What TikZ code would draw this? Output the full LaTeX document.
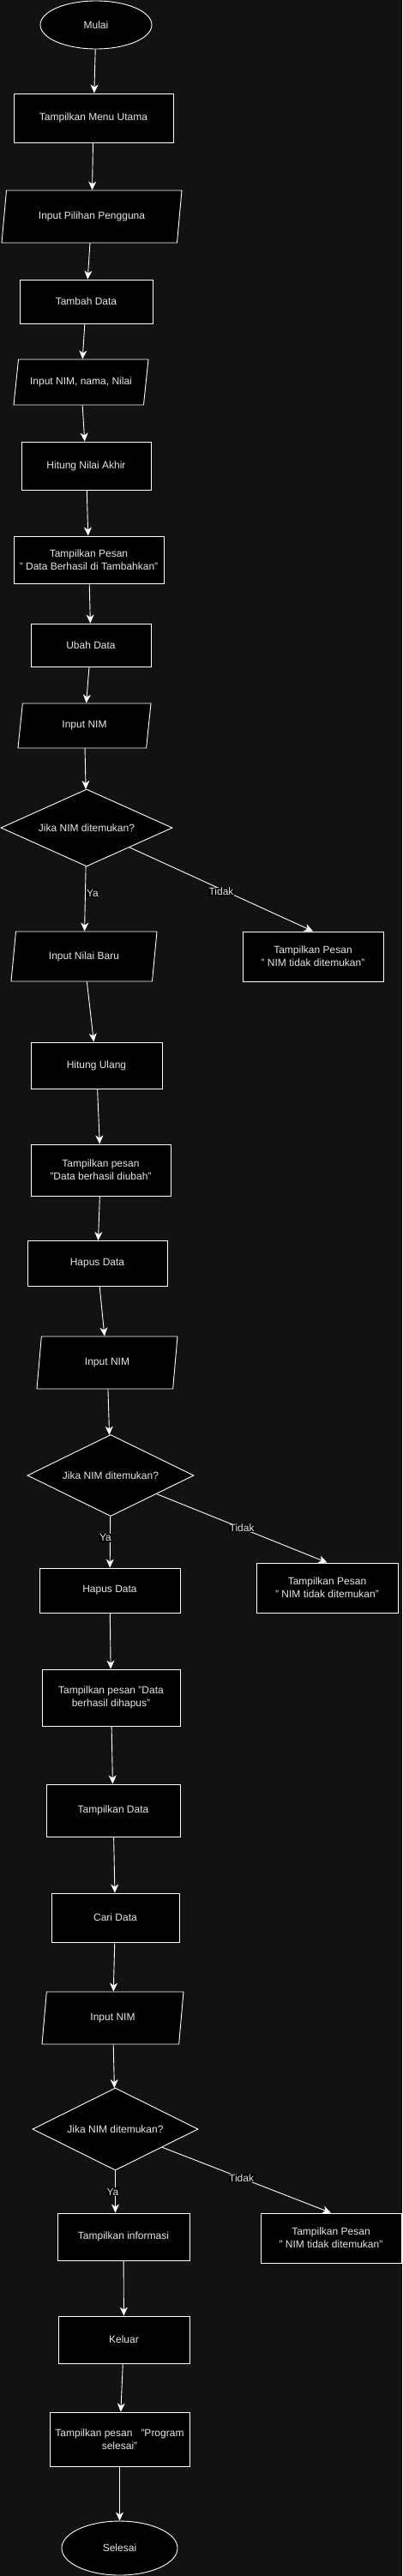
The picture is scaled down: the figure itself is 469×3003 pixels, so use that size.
\documentclass[tikz,border=0pt]{standalone}
\usepackage{fontspec}
\setmainfont{Liberation Sans}
\usetikzlibrary{shapes.geometric,arrows.meta}
\definecolor{bg}{HTML}{121212}
\definecolor{txt}{HTML}{E6E6E6}

\begin{document}
\begin{tikzpicture}[x=1pt,y=-1pt,
  every node/.style={font=\fontsize{12}{15}\selectfont, text=txt},
  base/.style={draw=white, fill=black, line width=0.9pt, inner sep=2pt, align=center},
  box/.style={base, rectangle},
  io/.style={base, trapezium, trapezium left angle=70, trapezium right angle=110, trapezium stretches body},
  choice/.style={base, diamond, aspect=2, inner sep=0pt},
  term/.style={base, ellipse},
  flow/.style={->, >={Stealth[length=10pt,width=9pt,inset=3pt]}, draw=white, line width=0.9pt},
  lbl/.style={fill=black, inner sep=0.5pt}]
\path[use as bounding box, fill=bg] (0,0) rectangle (469,3003);

% menu utama dan tambah data
\node[term, minimum width=130, minimum height=56] (mulai) at (112,29) {Mulai};
\node[box, minimum width=186, minimum height=57] (menu) at (109,137.5) {Tampilkan Menu Utama};
\node[io, minimum width=210, minimum height=61] (pilihan) at (107,252.5) {Input Pilihan Pengguna};
\node[box, minimum width=155, minimum height=51] (tambah) at (100.5,351.5) {Tambah Data};
\node[io, minimum width=157, minimum height=53] (inData) at (94.5,445.5) {Input NIM, nama, Nilai};
\node[box, minimum width=151, minimum height=56] (hitung) at (100.5,543) {Hitung Nilai Akhir};
\node[box, minimum width=175, minimum height=55] (msgTambah) at (103.5,652.5) {Tampilkan Pesan\\" Data Berhasil di Tambahkan"};

% ubah data
\node[box, minimum width=140, minimum height=50] (ubah) at (106,752) {Ubah Data};
\node[io, minimum width=155, minimum height=52] (inNimA) at (98.5,846) {Input NIM};
\node[choice, minimum width=200, minimum height=90] (cekA) at (101,965) {Jika NIM ditemukan?};
\node[io, minimum width=170, minimum height=58] (inBaru) at (98,1115) {Input Nilai Baru};
\node[box, minimum width=164, minimum height=58] (gagalA) at (365,1115) {Tampilkan Pesan\\" NIM tidak ditemukan"};
\node[box, minimum width=153, minimum height=54] (ulang) at (112.5,1242) {Hitung Ulang};
\node[box, minimum width=163, minimum height=60] (msgUbah) at (117.5,1364) {Tampilkan pesan\\"Data berhasil diubah"};

% hapus data
\node[box, minimum width=163, minimum height=53] (hapus) at (113.5,1473) {Hapus Data};
\node[io, minimum width=164, minimum height=61] (inNimB) at (125,1588.5) {Input NIM};
\node[choice, minimum width=194, minimum height=95] (cekB) at (129,1720) {Jika NIM ditemukan?};
\node[box, minimum width=164, minimum height=52] (hapusB) at (128,1854) {Hapus Data};
\node[box, minimum width=165, minimum height=58] (gagalB) at (381.5,1851) {Tampilkan Pesan\\" NIM tidak ditemukan"};
\node[box, minimum width=161, minimum height=66] (msgHapus) at (129.5,1979) {Tampilkan pesan "Data\\berhasil dihapus"};

% tampil dan cari data
\node[box, minimum width=156, minimum height=61] (tampil) at (132,2110.5) {Tampilkan Data};
\node[box, minimum width=149, minimum height=57] (cari) at (134.5,2235.5) {Cari Data};
\node[io, minimum width=165, minimum height=61] (inNimC) at (131.5,2352.5) {Input NIM};
\node[choice, minimum width=193, minimum height=96] (cekC) at (134.5,2482) {Jika NIM ditemukan?};
\node[box, minimum width=154, minimum height=55] (info) at (144,2607.5) {Tampilkan informasi};
\node[box, minimum width=164, minimum height=58] (gagalC) at (386,2609) {Tampilkan Pesan\\" NIM tidak ditemukan"};

% keluar
\node[box, minimum width=153, minimum height=55] (keluar) at (144.5,2727.5) {Keluar};
\node[box, minimum width=163, minimum height=63] (msgSelesai) at (139.5,2843.5) {Tampilkan pesan\ \ \ "Program\\selesai"};
\node[term, minimum width=135, minimum height=63] (selesai) at (139.5,2970.5) {Selesai};

\draw[flow] (mulai) -- (menu);
\draw[flow] (menu) -- (pilihan);
\draw[flow] (pilihan) -- (tambah);
\draw[flow] (tambah) -- (inData);
\draw[flow] (inData) -- (hitung);
\draw[flow] (hitung) -- (msgTambah);
\draw[flow] (msgTambah) -- (ubah);
\draw[flow] (ubah) -- (inNimA);
\draw[flow] (inNimA) -- (cekA);
\draw[flow] (cekA) -- node[lbl, pos=0.41, xshift=8.5pt] {Ya} (inBaru);
\draw[flow] (cekA) -- node[lbl, pos=0.5, yshift=-3pt] {Tidak} (gagalA.north);
\draw[flow] (inBaru) -- (ulang);
\draw[flow] (ulang) -- (msgUbah);
\draw[flow] (msgUbah) -- (hapus);
\draw[flow] (hapus) -- (inNimB);
\draw[flow] (inNimB) -- (cekB);
\draw[flow] (cekB) -- node[lbl, pos=0.42, xshift=-5.5pt] {Ya} (hapusB);
\draw[flow] (cekB) -- node[lbl, pos=0.5] {Tidak} (gagalB.north);
\draw[flow] (hapusB) -- (msgHapus);
\draw[flow] (msgHapus) -- (tampil);
\draw[flow] (tampil) -- (cari);
\draw[flow] (cari) -- (inNimC);
\draw[flow] (inNimC) -- (cekC);
\draw[flow] (cekC.south) -- node[lbl, pos=0.5, xshift=-3pt] {Ya} (cekC.south |- info.north);
\draw[flow] (cekC) -- node[lbl, pos=0.47] {Tidak} (gagalC.north);
\draw[flow] (info) -- (keluar);
\draw[flow] (keluar) -- (msgSelesai);
\draw[flow] (msgSelesai) -- (selesai);
\end{tikzpicture}
\end{document}
